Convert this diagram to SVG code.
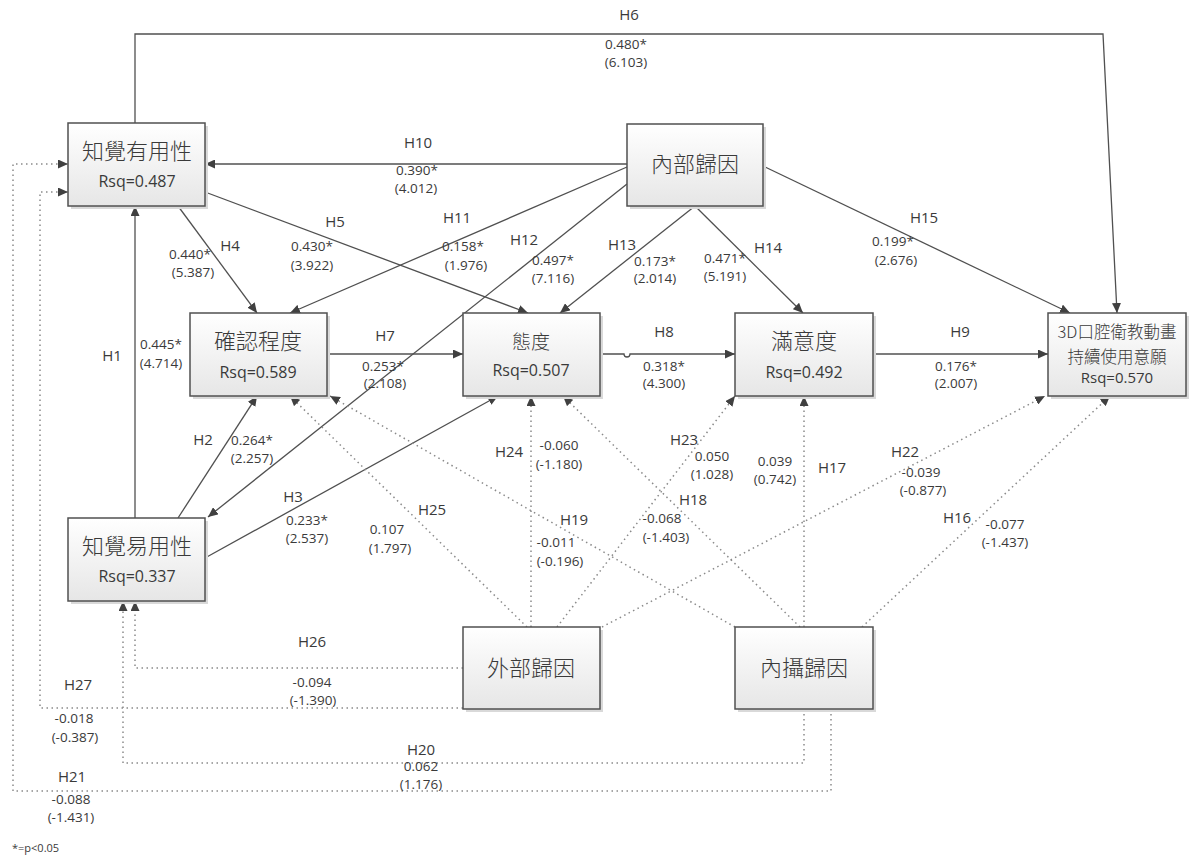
<svg xmlns="http://www.w3.org/2000/svg" width="1192" height="861" viewBox="0 0 1192 861">
<defs>
<linearGradient id="g" x1="0" y1="0" x2="0" y2="1">
<stop offset="0" stop-color="#ffffff"/>
<stop offset="1" stop-color="#e6e6e6"/>
</linearGradient>
<marker id="a" markerUnits="userSpaceOnUse" markerWidth="11" markerHeight="9" refX="10" refY="4.5" orient="auto">
<path d="M0,0 L10,4.5 L0,9 z" fill="#404040"/>
</marker>
</defs>
<style>
.box{fill:url(#g);stroke:#505050;stroke-width:1.5}
.sh{fill:#d9d9d9}
.t{font-family:"Open Sans","Noto Sans CJK TC",sans-serif;fill:#3a3a3a;text-anchor:middle}
.cn{font-family:"Noto Sans CJK TC","Noto Sans",sans-serif;fill:#3a3a3a;text-anchor:middle;font-size:21px;font-weight:300}
.rs{font-size:16px}
.h{font-size:15px}
.n{font-size:13.5px}
.s{fill:none;stroke:#505050;stroke-width:1.3}
.d{fill:none;stroke:#8a8a8a;stroke-width:1.5;stroke-dasharray:1.5 3.5}
</style>
<rect width="1192" height="861" fill="#fff"/>
<g id="connectors">
<path class="s" d="M135,123 L135,34 L1103,34 L1117,313" marker-end="url(#a)"/>
<path class="s" d="M627,164 L205,164" marker-end="url(#a)"/>
<path class="s" d="M627,167 L290,313" marker-end="url(#a)"/>
<path class="s" d="M627,184 L208,517" marker-end="url(#a)"/>
<path class="s" d="M695,206 L560,313" marker-end="url(#a)"/>
<path class="s" d="M695,206 L803,313" marker-end="url(#a)"/>
<path class="s" d="M763,166 L1070,313" marker-end="url(#a)"/>
<path class="s" d="M178,206 L257,313" marker-end="url(#a)"/>
<path class="s" d="M205,192 L528,313" marker-end="url(#a)"/>
<path class="s" d="M135,518 L135,206" marker-end="url(#a)"/>
<path class="s" d="M178,518 L257,396" marker-end="url(#a)"/>
<path class="s" d="M205,558 L498,396" marker-end="url(#a)"/>
<path class="s" d="M327,354 L463,354" marker-end="url(#a)"/>
<path class="s" d="M600,354 L624,354 A3,3 0 0 0 630,354 L735,354" marker-end="url(#a)"/>
<path class="s" d="M873,354 L1048,354" marker-end="url(#a)"/>
<path class="d" d="M531,627 L531,396" marker-end="url(#a)"/>
<path class="d" d="M527,627 L290,396" marker-end="url(#a)"/>
<path class="d" d="M557,627 L735,396" marker-end="url(#a)"/>
<path class="d" d="M602,627 L1045,396" marker-end="url(#a)"/>
<path class="d" d="M463,668 L135,668 L135,601" marker-end="url(#a)"/>
<path class="d" d="M463,708 L40,708 L40,192 L68,192" marker-end="url(#a)"/>
<path class="d" d="M804,627 L804,396" marker-end="url(#a)"/>
<path class="d" d="M800,627 L563,396" marker-end="url(#a)"/>
<path class="d" d="M735,627 L330,396" marker-end="url(#a)"/>
<path class="d" d="M862,627 L1110,396" marker-end="url(#a)"/>
<path class="d" d="M804,709 L804,763 L123,763 L123,601" marker-end="url(#a)"/>
<path class="d" d="M831,709 L831,791 L13,791 L13,164 L68,164" marker-end="url(#a)"/>
</g>
<g id="labels">
<text class="t h" x="629" y="20">H6</text>
<text class="t n" x="626" y="49">0.480*</text>
<text class="t n" x="626" y="67">(6.103)</text>
<text class="t h" x="418" y="148">H10</text>
<text class="t n" x="417" y="175">0.390*</text>
<text class="t n" x="416" y="193">(4.012)</text>
<text class="t h" x="457" y="223">H11</text>
<text class="t n" x="463" y="251">0.158*</text>
<text class="t n" x="466" y="270">(1.976)</text>
<text class="t h" x="524" y="245">H12</text>
<text class="t n" x="553" y="265">0.497*</text>
<text class="t n" x="553" y="283">(7.116)</text>
<text class="t h" x="622" y="250">H13</text>
<text class="t n" x="655" y="266">0.173*</text>
<text class="t n" x="655" y="283">(2.014)</text>
<text class="t h" x="768" y="253">H14</text>
<text class="t n" x="725" y="263">0.471*</text>
<text class="t n" x="725" y="281">(5.191)</text>
<text class="t h" x="924" y="223">H15</text>
<text class="t n" x="893" y="246">0.199*</text>
<text class="t n" x="896" y="265">(2.676)</text>
<text class="t h" x="335" y="227">H5</text>
<text class="t n" x="312" y="251">0.430*</text>
<text class="t n" x="312" y="270">(3.922)</text>
<text class="t h" x="230" y="251">H4</text>
<text class="t n" x="190" y="259">0.440*</text>
<text class="t n" x="193" y="277">(5.387)</text>
<text class="t h" x="112" y="361">H1</text>
<text class="t n" x="161" y="349">0.445*</text>
<text class="t n" x="161" y="368">(4.714)</text>
<text class="t h" x="385" y="341">H7</text>
<text class="t n" x="383" y="371">0.253*</text>
<text class="t n" x="385" y="388">(2.108)</text>
<text class="t h" x="664" y="337">H8</text>
<text class="t n" x="664" y="371">0.318*</text>
<text class="t n" x="664" y="388">(4.300)</text>
<text class="t h" x="960" y="337">H9</text>
<text class="t n" x="956" y="371">0.176*</text>
<text class="t n" x="956" y="388">(2.007)</text>
<text class="t h" x="203" y="445">H2</text>
<text class="t n" x="252" y="445">0.264*</text>
<text class="t n" x="252" y="463">(2.257)</text>
<text class="t h" x="293" y="502">H3</text>
<text class="t n" x="307" y="525">0.233*</text>
<text class="t n" x="307" y="543">(2.537)</text>
<text class="t h" x="432" y="515">H25</text>
<text class="t n" x="387" y="534">0.107</text>
<text class="t n" x="390" y="553">(1.797)</text>
<text class="t h" x="509" y="457">H24</text>
<text class="t n" x="559" y="450">-0.060</text>
<text class="t n" x="559" y="469">(-1.180)</text>
<text class="t h" x="574" y="525">H19</text>
<text class="t n" x="556" y="547">-0.011</text>
<text class="t n" x="560" y="566">(-0.196)</text>
<text class="t h" x="693" y="505">H18</text>
<text class="t n" x="662" y="523">-0.068</text>
<text class="t n" x="666" y="542">(-1.403)</text>
<text class="t h" x="684" y="445">H23</text>
<text class="t n" x="712" y="461">0.050</text>
<text class="t n" x="712" y="479">(1.028)</text>
<text class="t h" x="832" y="473">H17</text>
<text class="t n" x="775" y="466">0.039</text>
<text class="t n" x="775" y="484">(0.742)</text>
<text class="t h" x="905" y="457">H22</text>
<text class="t n" x="921" y="477">-0.039</text>
<text class="t n" x="923" y="495">(-0.877)</text>
<text class="t h" x="957" y="523">H16</text>
<text class="t n" x="1005" y="529">-0.077</text>
<text class="t n" x="1005" y="547">(-1.437)</text>
<text class="t h" x="312" y="647">H26</text>
<text class="t n" x="312" y="687">-0.094</text>
<text class="t n" x="313" y="705">(-1.390)</text>
<text class="t h" x="78" y="690">H27</text>
<text class="t n" x="74" y="723">-0.018</text>
<text class="t n" x="75" y="742">(-0.387)</text>
<text class="t h" x="421" y="755">H20</text>
<text class="t n" x="421" y="771">0.062</text>
<text class="t n" x="421" y="789">(1.176)</text>
<text class="t h" x="72" y="782">H21</text>
<text class="t n" x="71" y="804">-0.088</text>
<text class="t n" x="71" y="822">(-1.431)</text>
<text class="t" x="12" y="852" style="font-size:11px;text-anchor:start">*=p&lt;0.05</text>
</g>
<g id="n-pu">
<rect class="sh" x="71" y="126" width="137" height="83"/>
<rect class="box" x="68" y="123" width="137" height="83"/>
<text class="cn" x="137" y="159" style="font-size:22px">知覺有用性</text>
<text class="t rs" x="137" y="187">Rsq=0.487</text>
</g>
<g id="n-int">
<rect class="sh" x="630" y="127" width="136" height="82"/>
<rect class="box" x="627" y="124" width="136" height="82"/>
<text class="cn" x="695" y="172" style="font-size:22px">內部歸因</text>
</g>
<g id="n-conf">
<rect class="sh" x="193" y="316" width="137" height="83"/>
<rect class="box" x="190" y="313" width="137" height="83"/>
<text class="cn" x="258" y="349" style="font-size:22px">確認程度</text>
<text class="t rs" x="258" y="378">Rsq=0.589</text>
</g>
<g id="n-att">
<rect class="sh" x="466" y="316" width="137" height="83"/>
<rect class="box" x="463" y="313" width="137" height="83"/>
<text class="cn" x="531" y="349" style="font-size:19px">態度</text>
<text class="t rs" x="531" y="376">Rsq=0.507</text>
</g>
<g id="n-sat">
<rect class="sh" x="738" y="316" width="138" height="83"/>
<rect class="box" x="735" y="313" width="138" height="83"/>
<text class="cn" x="804" y="349" style="font-size:22px">滿意度</text>
<text class="t rs" x="804" y="378">Rsq=0.492</text>
</g>
<g id="n-ci">
<rect class="sh" x="1051" y="316" width="138" height="83"/>
<rect class="box" x="1048" y="313" width="138" height="83"/>
<text class="cn" x="1117" y="338" style="font-size:16.5px">3D口腔衛教動畫</text>
<text class="cn" x="1117" y="363" style="font-size:16.5px">持續使用意願</text>
<text class="t" x="1117" y="383" style="font-size:15px">Rsq=0.570</text>
</g>
<g id="n-peou">
<rect class="sh" x="71" y="521" width="137" height="83"/>
<rect class="box" x="68" y="518" width="137" height="83"/>
<text class="cn" x="137" y="554" style="font-size:22px">知覺易用性</text>
<text class="t rs" x="137" y="582">Rsq=0.337</text>
</g>
<g id="n-ext">
<rect class="sh" x="466" y="630" width="137" height="82"/>
<rect class="box" x="463" y="627" width="137" height="82"/>
<text class="cn" x="531" y="676" style="font-size:22px">外部歸因</text>
</g>
<g id="n-intro">
<rect class="sh" x="738" y="630" width="138" height="82"/>
<rect class="box" x="735" y="627" width="138" height="82"/>
<text class="cn" x="804" y="676" style="font-size:22px">內攝歸因</text>
</g>
</svg>
